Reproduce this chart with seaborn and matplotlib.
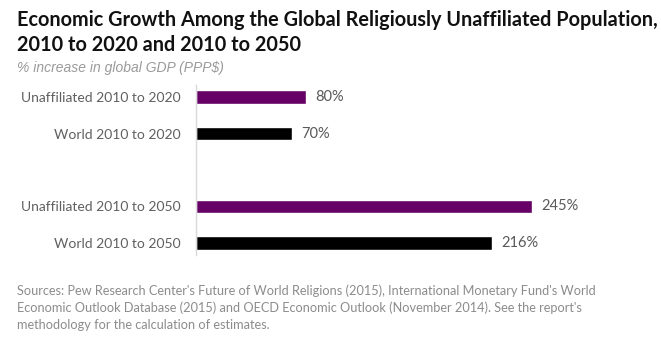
import matplotlib
matplotlib.use("Agg")
import matplotlib.pyplot as plt
import seaborn as sns
import pandas as pd
import numpy as np

categories = ["Unaffiliated 2010 to 2020", "World 2010 to 2020", " ",
              "Unaffiliated 2010 to 2050", "World 2010 to 2050"]
values = [80, 70, np.nan, 245, 216]
groups = ["Unaffiliated", "World", "World", "Unaffiliated", "World"]
value_labels = ["80%", "70%", "", "245%", "216%"]

title = "Economic Growth Among the Global Religiously Unaffiliated Population,\n2010 to 2020 and 2010 to 2050"
subtitle = "% increase in global GDP (PPP$)"
source = ("Sources: Pew Research Center's Future of World Religions (2015), International Monetary Fund's World\n"
          "Economic Outlook Database (2015) and OECD Economic Outlook (November 2014). See the report's\n"
          "methodology for the calculation of estimates.")

sns.set_style("white")
plt.rcParams["font.family"] = ["Lato", "DejaVu Sans"]

df = pd.DataFrame({"cat": categories, "val": values, "grp": groups})
palette = {"Unaffiliated": "#660066", "World": "#000000"}

fig = plt.figure(figsize=(6.61, 3.46), dpi=100)
ax = fig.add_axes([196/661, 1-255/346, (621-196)/661, 170/346])
sns.barplot(data=df, x="val", y="cat", hue="grp", palette=palette, order=categories,
            dodge=False, width=0.38, legend=False, ax=ax, saturation=1)

ax.set_xlim(0, 310)
ax.set_ylim(4.33, -0.33)
for s in ["top", "right", "bottom"]:
    ax.spines[s].set_visible(False)
ax.spines["left"].set_color("#d9d9d9")
ax.spines["left"].set_linewidth(1)
ax.set_xticks([])
ax.set_xlabel("")
ax.set_ylabel("")
ax.tick_params(axis="y", length=0, pad=11, labelsize=10, labelcolor="#606060")

for i, (v, lab) in enumerate(zip(values, value_labels)):
    if lab:
        ax.text(v + 7, i, lab, va="center", ha="left", fontsize=10.5, color="#595959")

fig.text(17/661, 1-10/346, title, ha="left", va="top", fontsize=14.3, fontweight="bold",
         color="#111111", linespacing=1.3)
fig.text(17/661, 1-68/346, subtitle, ha="left", va="center", fontsize=10, style="italic",
         color="#9a9a9a", family=["Liberation Sans", "DejaVu Sans"])
fig.text(17/661, 1-284/346, source, ha="left", va="top", fontsize=9.2, color="#8c8c8c",
         linespacing=1.5)

fig.savefig("out.png", dpi=100)
